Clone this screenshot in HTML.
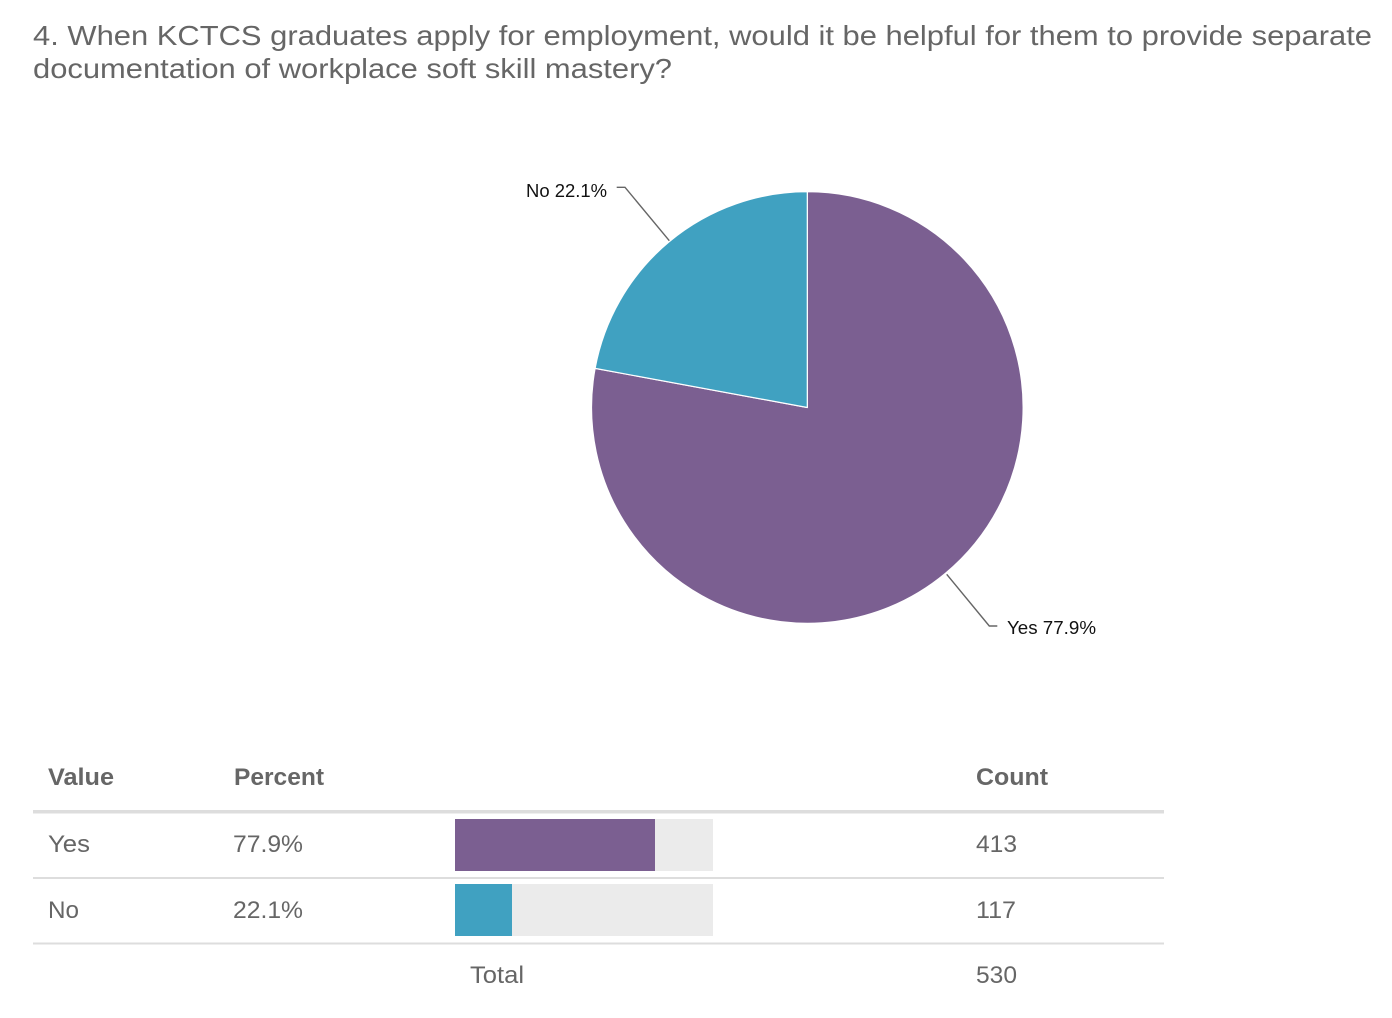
<!DOCTYPE html>
<html>
<head>
<meta charset="utf-8">
<style>
  html,body{margin:0;padding:0;background:#fff;}
  svg{display:block;}
  text{font-family:"Liberation Sans", Arial, sans-serif;}
</style>
</head>
<body>
<svg width="1392" height="1018" viewBox="0 0 1392 1018" xmlns="http://www.w3.org/2000/svg">
  <rect width="1392" height="1018" fill="#fff"/>
  <!-- Title -->
  <text x="33" y="45" font-size="28" fill="#666" textLength="1339" lengthAdjust="spacingAndGlyphs">4. When KCTCS graduates apply for employment, would it be helpful for them to provide separate</text>
  <text x="33" y="78" font-size="28" fill="#666" textLength="639" lengthAdjust="spacingAndGlyphs">documentation of workplace soft skill mastery?</text>

  <!-- Pie -->
  <g stroke="#fff" stroke-width="1.2" stroke-linejoin="round">
    <path d="M807.3,407.5 L807.3,191.7 A215.8,215.8 0 1,1 595.1,368.4 Z" fill="#7B5F91"/>
    <path d="M807.3,407.5 L595.1,368.4 A215.8,215.8 0 0,1 807.3,191.7 Z" fill="#40A1C1"/>
  </g>

  <!-- Leader lines -->
  <polyline points="616.7,187.3 625,187.3 669.3,240.7" fill="none" stroke="#666" stroke-width="1.4"/>
  <polyline points="946.7,574.3 989.3,626 997.3,626" fill="none" stroke="#666" stroke-width="1.4"/>
  <text x="526" y="197" font-size="18" fill="#111" textLength="81" lengthAdjust="spacingAndGlyphs">No 22.1%</text>
  <text x="1007" y="634" font-size="18" fill="#111" textLength="89" lengthAdjust="spacingAndGlyphs">Yes 77.9%</text>

  <!-- Table header -->
  <text x="48" y="785" font-size="24" font-weight="bold" fill="#666" textLength="66" lengthAdjust="spacingAndGlyphs">Value</text>
  <text x="234" y="785" font-size="24" font-weight="bold" fill="#666" textLength="90" lengthAdjust="spacingAndGlyphs">Percent</text>
  <text x="976" y="785" font-size="24" font-weight="bold" fill="#666" textLength="72" lengthAdjust="spacingAndGlyphs">Count</text>
  <rect x="33" y="810" width="1131" height="3.5" fill="#ddd"/>

  <!-- Row Yes -->
  <text x="48" y="852" font-size="24" fill="#666" textLength="42" lengthAdjust="spacingAndGlyphs">Yes</text>
  <text x="233" y="852" font-size="24" fill="#666" textLength="70" lengthAdjust="spacingAndGlyphs">77.9%</text>
  <rect x="455" y="819" width="258" height="52" fill="#ebebeb"/>
  <rect x="455" y="819" width="200" height="52" fill="#7B5F91"/>
  <text x="976" y="852" font-size="24" fill="#666" textLength="41" lengthAdjust="spacingAndGlyphs">413</text>
  <rect x="33" y="877" width="1131" height="2" fill="#ddd"/>

  <!-- Row No -->
  <text x="48" y="918" font-size="24" fill="#666" textLength="31" lengthAdjust="spacingAndGlyphs">No</text>
  <text x="233" y="918" font-size="24" fill="#666" textLength="70" lengthAdjust="spacingAndGlyphs">22.1%</text>
  <rect x="455" y="884" width="258" height="52" fill="#ebebeb"/>
  <rect x="455" y="884" width="57" height="52" fill="#40A1C1"/>
  <text x="976" y="918" font-size="24" fill="#666" textLength="40" lengthAdjust="spacingAndGlyphs">117</text>
  <rect x="33" y="942.5" width="1131" height="2" fill="#ddd"/>

  <!-- Total -->
  <text x="470" y="983" font-size="24" fill="#666" textLength="54" lengthAdjust="spacingAndGlyphs">Total</text>
  <text x="976" y="983" font-size="24" fill="#666" textLength="41" lengthAdjust="spacingAndGlyphs">530</text>
</svg>
</body>
</html>
